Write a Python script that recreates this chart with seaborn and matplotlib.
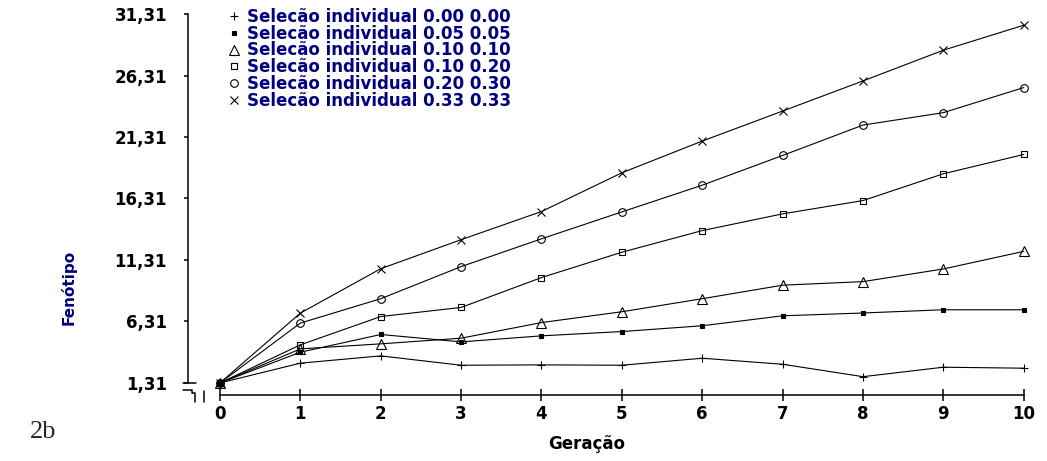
import numpy as np
import pandas as pd
import seaborn as sns
import matplotlib.pyplot as plt
from matplotlib.lines import Line2D

# data
geracao = list(range(11))
sel_000_000 = [1.31, 2.92, 3.51, 2.75, 2.78, 2.75, 3.32, 2.83, 1.82, 2.59, 2.51]
sel_005_005 = [1.31, 3.81, 5.25, 4.65, 5.14, 5.49, 5.96, 6.77, 7.00, 7.26, 7.26]
sel_010_010 = [1.31, 4.08, 4.49, 4.95, 6.22, 7.10, 8.16, 9.26, 9.55, 10.58, 12.01]
sel_010_020 = [1.31, 4.41, 6.71, 7.45, 9.88, 11.94, 13.70, 15.06, 16.14, 18.32, 19.89]
sel_020_030 = [1.31, 6.18, 8.16, 10.77, 13.03, 15.22, 17.39, 19.81, 22.28, 23.29, 25.33]
sel_033_033 = [1.31, 6.99, 10.60, 12.96, 15.25, 18.40, 20.98, 23.42, 25.87, 28.37, 30.40]

nomes = ["Selecão individual 0.00 0.00", "Selecão individual 0.05 0.05",
         "Selecão individual 0.10 0.10", "Selecão individual 0.10 0.20",
         "Selecão individual 0.20 0.30", "Selecão individual 0.33 0.33"]
series = [sel_000_000, sel_005_005, sel_010_010, sel_010_020, sel_020_030, sel_033_033]

yticks = [1.31, 6.31, 11.31, 16.31, 21.31, 26.31, 31.31]
ytick_labels = ["1,31", "6,31", "11,31", "16,31", "21,31", "26,31", "31,31"]

# marker styles per series: (marker, size, facecolor)
estilos = [("+", 6, "black"), ("s", 3, "black"), ("^", 7, "none"),
           ("s", 5, "none"), ("o", 5.5, "none"), ("x", 5.5, "black")]

sns.set_style("white")
plt.rcParams['font.family'] = ['DejaVu Sans']

fig = plt.figure(figsize=(10.47, 4.61), dpi=100)
W, H = 1047, 461
ax = fig.add_axes([188 / W, 66 / H, (1035 - 188) / W, (395 - 8) / H])

for nome, vals, (m, ms, fc) in zip(nomes, series, estilos):
    sns.lineplot(x=geracao, y=vals, ax=ax, color="black", lw=0.8,
                 marker=m, markersize=ms, markerfacecolor=fc,
                 markeredgecolor="black", markeredgewidth=0.8, legend=False)

ax.set_xlim(-0.398, 10.14)
ax.set_ylim(0.33, 31.8)

for s in ["top", "right"]:
    ax.spines[s].set_visible(False)
ax.spines["left"].set_bounds(1.31, 31.31)
ax.spines["bottom"].set_bounds(0, 10)
for s in ["left", "bottom"]:
    ax.spines[s].set_color("black")
    ax.spines[s].set_linewidth(1.1)

ax.set_xticks(geracao)
ax.set_xticklabels([str(g) for g in geracao], fontweight="bold", fontsize=12)
ax.set_yticks(yticks)
ax.set_yticklabels(ytick_labels, fontweight="bold", fontsize=12)
ax.tick_params(axis="x", bottom=True, direction="inout", length=8, width=1.1, pad=3, colors="black")
ax.tick_params(axis="y", left=True, direction="out", length=3, width=1.1, pad=12, colors="black")

ax.set_xlabel("Geração", fontweight="bold", fontsize=12, color="black")
ax.xaxis.set_label_coords((587 - 188) / (1035 - 188), -40 / 387)
ax.set_ylabel("Fenótipo", fontsize=11, color="#000080", fontweight="bold")
ax.yaxis.set_label_coords((77 - 188) / (1035 - 188), (395 - 287) / 387)

# legend: markers only
handles = [Line2D([], [], linestyle="none", marker=m, markersize=ms, markerfacecolor=fc,
                  markeredgecolor="black", markeredgewidth=0.8, color="black")
           for m, ms, fc in estilos]
leg = ax.legend(handles, nomes, loc="upper left", bbox_to_anchor=(32 / 847, 1.022),
                frameon=False, handlelength=0.7, handletextpad=0.4, labelspacing=-0.07,
                prop={"weight": "bold", "size": 12}, borderpad=0)
for t in leg.get_texts():
    t.set_color("#000080")

# axis break marks at the corner
def px(xs, ys):
    return [x / W for x in xs], [1 - y / H for y in ys]

for xs, ys in [([183, 196], [383, 383]),
               ([183, 192, 192, 195, 195], [390, 390, 393, 393, 402]),
               ([204, 204], [391, 402])]:
    fx, fy = px(xs, ys)
    fig.add_artist(Line2D(fx, fy, transform=fig.transFigure, color="black", lw=1.1))

fig.text(30 / W, 1 - 432 / H, "2b", fontsize=19, family=["Liberation Serif"],
         va="center", ha="left")

fig.savefig("out.png", dpi=100)
